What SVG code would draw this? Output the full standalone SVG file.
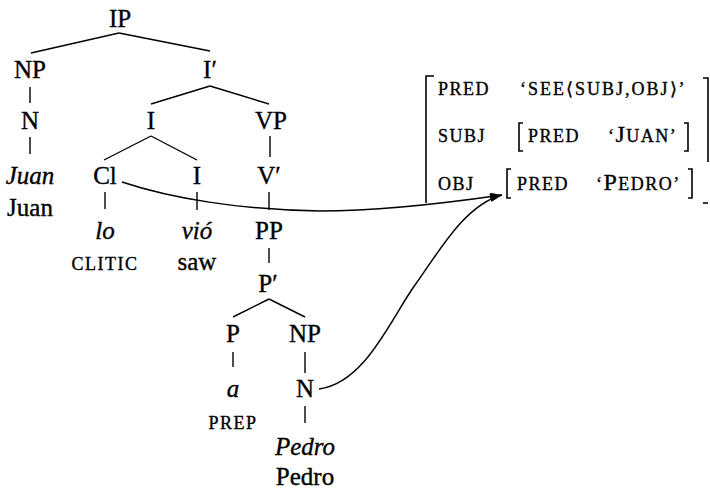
<svg xmlns="http://www.w3.org/2000/svg" width="710" height="490" viewBox="0 0 710 490">
<defs>
<style>
text{font-family:"Liberation Serif","Times New Roman",serif;fill:#000;stroke:#000;stroke-width:0.35;}
.t{font-size:25px;text-anchor:middle;}
.i{font-style:italic;}
.sc{font-size:18px;letter-spacing:1.5px;}
.scm{font-size:18px;letter-spacing:1.5px;text-anchor:middle;}
.big{font-size:24px;}
.e{stroke:#000;stroke-width:1.4;fill:none;}
.br{stroke:#000;stroke-width:1.6;fill:none;}
.cv{stroke:#000;stroke-width:1.5;fill:none;marker-end:url(#ah);}
</style>
<marker id="ah" markerUnits="userSpaceOnUse" markerWidth="14" markerHeight="10" refX="12" refY="4" orient="auto">
<path d="M0,0 L12,4 L0,8 z" fill="#000"/>
</marker>
</defs>
<rect width="710" height="490" fill="#fff"/>

<g id="connectors">
<line class="e" x1="119" y1="33" x2="31" y2="53"/>
<line class="e" x1="119" y1="33" x2="210" y2="51"/>
<line class="e" x1="30" y1="87" x2="30" y2="103"/>
<line class="e" x1="30" y1="137" x2="30" y2="154"/>
<line class="e" x1="210" y1="86" x2="151" y2="104"/>
<line class="e" x1="210" y1="86" x2="269" y2="104"/>
<line class="e" x1="151" y1="136" x2="104" y2="160"/>
<line class="e" x1="151" y1="136" x2="197" y2="160"/>
<line class="e" x1="270" y1="136" x2="270" y2="157"/>
<line class="e" x1="105" y1="192" x2="105" y2="209"/>
<line class="e" x1="197" y1="192" x2="197" y2="210"/>
<line class="e" x1="269" y1="192" x2="269" y2="210"/>
<line class="e" x1="269" y1="248" x2="269" y2="263"/>
<line class="e" x1="269" y1="299" x2="233" y2="317"/>
<line class="e" x1="269" y1="299" x2="305" y2="317"/>
<line class="e" x1="233" y1="352" x2="233" y2="367"/>
<line class="e" x1="305" y1="352" x2="305" y2="373"/>
<line class="e" x1="305" y1="406" x2="305" y2="423"/>
<path class="cv" d="M122,182 C170,198 240,210 320,211 C370,211 440,204 502,195"/>
<path class="cv" d="M319,389 C365,383 390,320 415,285 C440,250 465,205 502,195"/>
</g>

<g id="IP"><text class="t" x="120" y="27">IP</text></g>
<g id="NP1"><text class="t" x="30" y="78">NP</text></g>
<g id="Ibar"><text class="t" x="210" y="78">I′</text></g>
<g id="N1"><text class="t" x="30" y="129">N</text></g>
<g id="I1"><text class="t" x="151" y="129">I</text></g>
<g id="VP"><text class="t" x="271" y="129">VP</text></g>
<g id="Juan"><text class="t i" x="30" y="184">Juan</text><text class="t" x="30" y="216">Juan</text></g>
<g id="Cl"><text class="t" x="105" y="184">Cl</text></g>
<g id="I2"><text class="t" x="197" y="184">I</text></g>
<g id="Vbar"><text class="t" x="269" y="184">V′</text></g>
<g id="lo"><text class="t i" x="105" y="239">lo</text><text class="scm" x="105" y="270">CLITIC</text></g>
<g id="vio"><text class="t i" x="197" y="239">vió</text><text class="t" x="197" y="270">saw</text></g>
<g id="PP"><text class="t" x="269" y="239">PP</text></g>
<g id="Pbar"><text class="t" x="268" y="292">P′</text></g>
<g id="P"><text class="t" x="233" y="342">P</text></g>
<g id="NP2"><text class="t" x="305" y="342">NP</text></g>
<g id="a"><text class="t i" x="233" y="397">a</text><text class="scm" x="233" y="429">PREP</text></g>
<g id="N2"><text class="t" x="305" y="397">N</text></g>
<g id="Pedro"><text class="t i" x="305" y="455">Pedro</text><text class="t" x="305" y="485">Pedro</text></g>

<g id="fstructure">
<path class="br" d="M434,76 H426 V203"/>
<path class="br" d="M703,78 H708 V162"/>
<path class="br" d="M703,203 H708"/>
<text class="sc" x="438" y="95">PRED</text>
<text class="sc" x="520" y="95" style="letter-spacing:2px">‘SEE⟨SUBJ,OBJ⟩’</text>
<text class="sc" x="438" y="142">SUBJ</text>
<path class="br" d="M523,123 H519 V151 H523"/>
<text class="sc" x="528" y="142">PRED</text>
<text class="sc" x="608" y="142">‘<tspan class="big">J</tspan>UAN’</text>
<path class="br" d="M684,123 H688 V151 H684"/>
<text class="sc" x="438" y="190">OBJ</text>
<path class="br" d="M511,169 H507 V198 H511"/>
<text class="sc" x="517" y="190">PRED</text>
<text class="sc" x="596" y="190">‘<tspan class="big">P</tspan>EDRO’</text>
<path class="br" d="M688,169 H692 V198 H688"/>
</g>
</svg>
